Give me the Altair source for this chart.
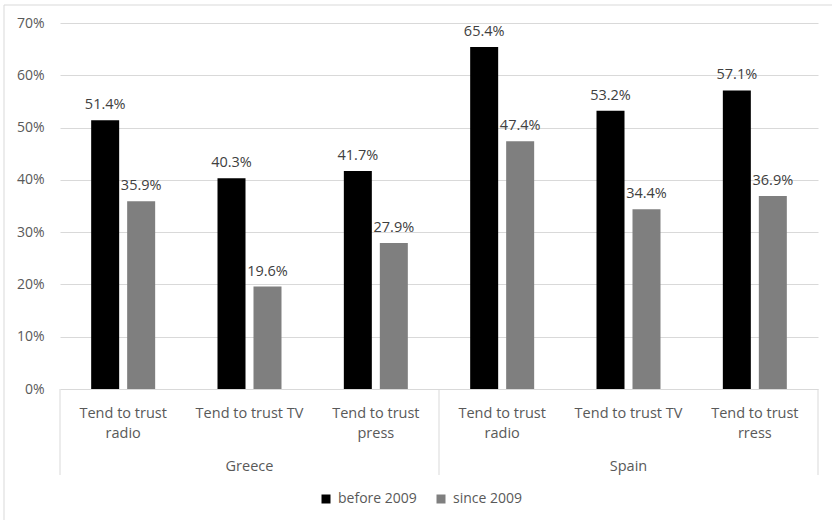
import altair as alt
import pandas as pd

# Survey results: share of respondents who tend to trust each medium
countries = ["Greece", "Greece", "Greece", "Spain", "Spain", "Spain"]
measures = [
    "Tend to trust\nradio", "Tend to trust TV", "Tend to trust\npress",
    "Tend to trust\nradio", "Tend to trust TV", "Tend to trust\nrress",
]
before_2009 = [51.4, 40.3, 41.7, 65.4, 53.2, 57.1]
since_2009 = [35.9, 19.6, 27.9, 47.4, 34.4, 36.9]
periods = ["before 2009", "since 2009"]
period_colors = ["#000000", "#7f7f7f"]
y_ticks = [0, 10, 20, 30, 40, 50, 60, 70]

FONT = "Open Sans"
TEXT_COLOR = "#595959"
GRID_COLOR = "#d9d9d9"
W, H = 758, 366

keys = [f"{c} {i}" for i, c in enumerate(countries)]

bars = pd.DataFrame(
    [{"key": k, "period": periods[0], "value": v} for k, v in zip(keys, before_2009)]
    + [{"key": k, "period": periods[1], "value": v} for k, v in zip(keys, since_2009)]
)
bars["label"] = bars["value"].map(lambda v: f"{v:.1f}%")

cats = pd.DataFrame({"key": keys, "measure": measures, "country": countries})

# country label sits under the middle category of each group
country_rows = cats.groupby("country", sort=False).nth(1).reset_index(drop=True)

# group separators: left edge of each group's first category, right edge of the last
seps_left = cats.groupby("country", sort=False).nth(0).reset_index(drop=True)
seps_right = cats.tail(1).reset_index(drop=True)

x_scale = alt.Scale(domain=keys, paddingInner=0, paddingOuter=0)
x_enc = alt.X("key:N", scale=x_scale, axis=None)
xo_enc = alt.XOffset(
    "period:N", sort=periods, scale=alt.Scale(paddingInner=0.222, paddingOuter=0.866)
)
y_scale = alt.Scale(domain=[0, 70], nice=False)

frame = alt.Chart(pd.DataFrame({"a": [0]})).mark_rect(
    fill=None, stroke=GRID_COLOR, strokeWidth=1
).encode(
    x=alt.value(-56), x2=alt.value(W + 40),
    y=alt.value(-18), y2=alt.value(H + 160),
)

bar_layer = alt.Chart(bars).mark_bar().encode(
    x=x_enc,
    xOffset=xo_enc,
    y=alt.Y(
        "value:Q", scale=y_scale, title=None,
        axis=alt.Axis(values=y_ticks, labelExpr="datum.value + '%'"),
    ),
    color=alt.Color(
        "period:N",
        scale=alt.Scale(domain=periods, range=period_colors),
        legend=alt.Legend(
            title=None, orient="none", direction="horizontal",
            legendX=259, legendY=469, padding=0,
            symbolType="square", symbolSize=81, symbolStrokeWidth=0,
            labelFontSize=14, labelColor=TEXT_COLOR, labelFont=FONT,
            labelOffset=5, columnPadding=17,
        ),
    ),
)

value_labels = alt.Chart(bars).mark_text(
    baseline="alphabetic", dy=-11, fontSize=14.5, font=FONT, color="#404040"
).encode(
    x=x_enc,
    xOffset=xo_enc,
    y=alt.Y("value:Q", scale=y_scale),
    text="label:N",
)

cat_labels = alt.Chart(cats).mark_text(
    baseline="alphabetic", lineBreak="\n", lineHeight=20,
    fontSize=14.5, font=FONT, color=TEXT_COLOR,
).encode(x=x_enc, y=alt.value(395), text="measure:N")

country_labels = alt.Chart(country_rows).mark_text(
    baseline="alphabetic", fontSize=14.5, font=FONT, color=TEXT_COLOR,
).encode(x=x_enc, y=alt.value(448), text="country:N")

sep_left = alt.Chart(seps_left).mark_rule(color=GRID_COLOR, strokeWidth=1).encode(
    x=alt.X("key:N", scale=x_scale, axis=None, bandPosition=0),
    y=alt.value(H), y2=alt.value(H + 86),
)
sep_right = alt.Chart(seps_right).mark_rule(color=GRID_COLOR, strokeWidth=1).encode(
    x=alt.X("key:N", scale=x_scale, axis=None, bandPosition=1),
    y=alt.value(H), y2=alt.value(H + 86),
)

chart = alt.layer(
    frame, bar_layer, value_labels, cat_labels, country_labels, sep_left, sep_right
).properties(
    width=W, height=H,
    autosize=alt.AutoSizeParams(type="none"),
    padding={"left": 60, "top": 23, "right": 14, "bottom": 131},
    background="white",
).configure_view(stroke=None).configure_axisY(
    domain=False, ticks=False, tickSize=0, labelPadding=16,
    grid=True, gridColor=GRID_COLOR, gridWidth=1,
    labelFont=FONT, labelFontSize=14, labelColor=TEXT_COLOR,
)

chart.save("out.html", embed_options={"renderer": "svg", "actions": False})
